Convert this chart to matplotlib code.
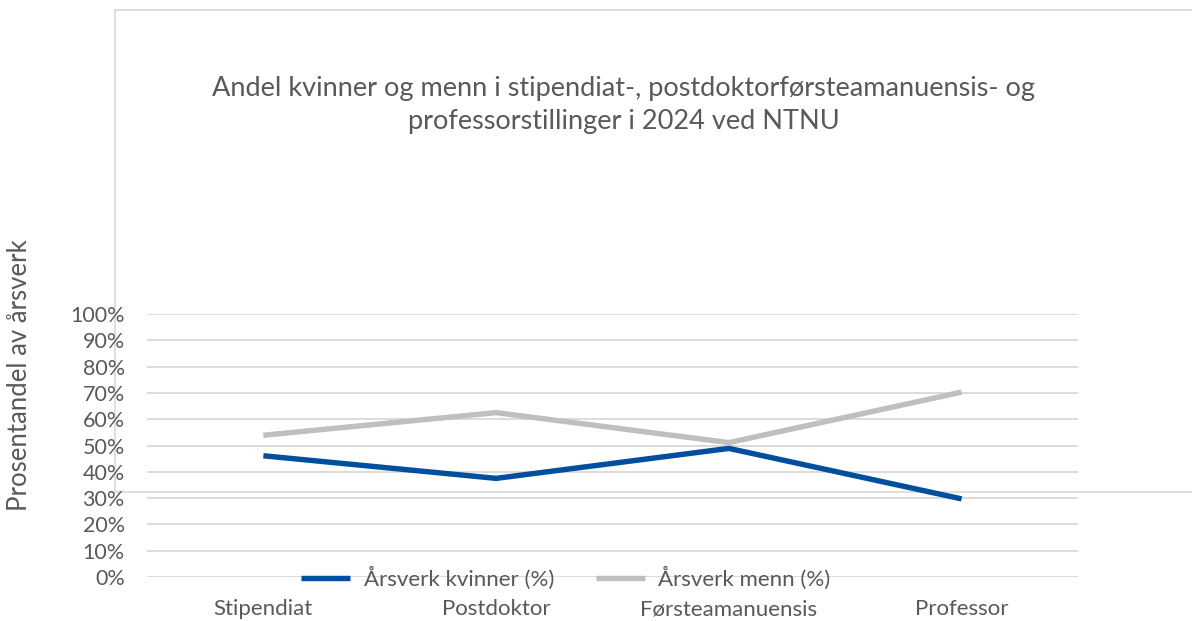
#!/usr/bin/env python3

import matplotlib
matplotlib.use('Agg')
import matplotlib.pyplot as plt
from matplotlib.lines import Line2D

categories = ['Stipendiat', 'Postdoktor', 'Førsteamanuensis', 'Professor']
kvinner = [46.1, 37.5, 48.9, 29.7]
menn = [53.9, 62.5, 51.1, 70.3]
yticks = [0, 10, 20, 30, 40, 50, 60, 70, 80, 90, 100]

title = ('Andel kvinner og menn i stipendiat-, postdoktorførsteamanuensis- og\n'
         'professorstillinger i 2024 ved NTNU')

plt.rcParams['font.family'] = ['Lato', 'DejaVu Sans']
txt = '#595959'
grid = '#d9d9d9'

W, H = 1192, 621
fig = plt.figure(figsize=(W / 100, H / 100), dpi=100)

# axes: gridline area 147..1078 px, 0% at y=577, 100% at y=314
ax = fig.add_axes([147 / W, 1 - 577 / H, (1078 - 147) / W, (577 - 314) / H])
ax.patch.set_alpha(0)
ax.set_xlim(-0.5, len(categories) - 0.5)
ax.set_ylim(0, 100)
for s in ax.spines.values():
    s.set_visible(False)

for t in yticks:
    ax.axhline(t, color=grid, lw=1.3, zorder=1)

x = list(range(len(categories)))
ax.plot(x, kvinner, color='#004f9e', lw=3.9, solid_capstyle='butt', zorder=3,
        label='Årsverk kvinner (%)', clip_on=False)
ax.plot(x, menn, color='#bfbfbf', lw=3.9, solid_capstyle='butt', zorder=3,
        label='Årsverk menn (%)', clip_on=False)

ax.set_yticks(yticks)
ax.set_yticklabels(['%d%%' % t for t in yticks], fontsize=15.5, color=txt)
ax.set_xticks(x)
ax.set_xticklabels(categories, fontsize=16, color=txt)
ax.tick_params(axis='both', length=0)
ax.tick_params(axis='y', pad=16)
ax.tick_params(axis='x', pad=16)

fig.text(20 / W, 1 - 375 / H, 'Prosentandel av årsverk', rotation=90,
         ha='center', va='center', fontsize=18.5, color=txt)

fig.text(624 / W, 1 - 105 / H, title, ha='center', va='center',
         fontsize=19.5, color=txt, linespacing=1.4)

leg = ax.legend(loc='center', bbox_to_anchor=(566 / W, 1 - 578 / H),
                bbox_transform=fig.transFigure, ncol=2, frameon=False,
                fontsize=16, handlelength=2.2, columnspacing=1.9,
                handletextpad=0.6)
for t in leg.get_texts():
    t.set_color(txt)

# outer chart border fragments
bc = '#d9d9d9'
fig.add_artist(Line2D([115 / W, 115 / W], [1 - 10 / H, 1 - 492 / H], color=bc, lw=1.2, zorder=0))
fig.add_artist(Line2D([115 / W, 1], [1 - 10 / H, 1 - 10 / H], color=bc, lw=1.2, zorder=0))
fig.add_artist(Line2D([115 / W, 1], [1 - 492 / H, 1 - 492 / H], color=bc, lw=1.2, zorder=0))

fig.savefig('out.png', dpi=100)
